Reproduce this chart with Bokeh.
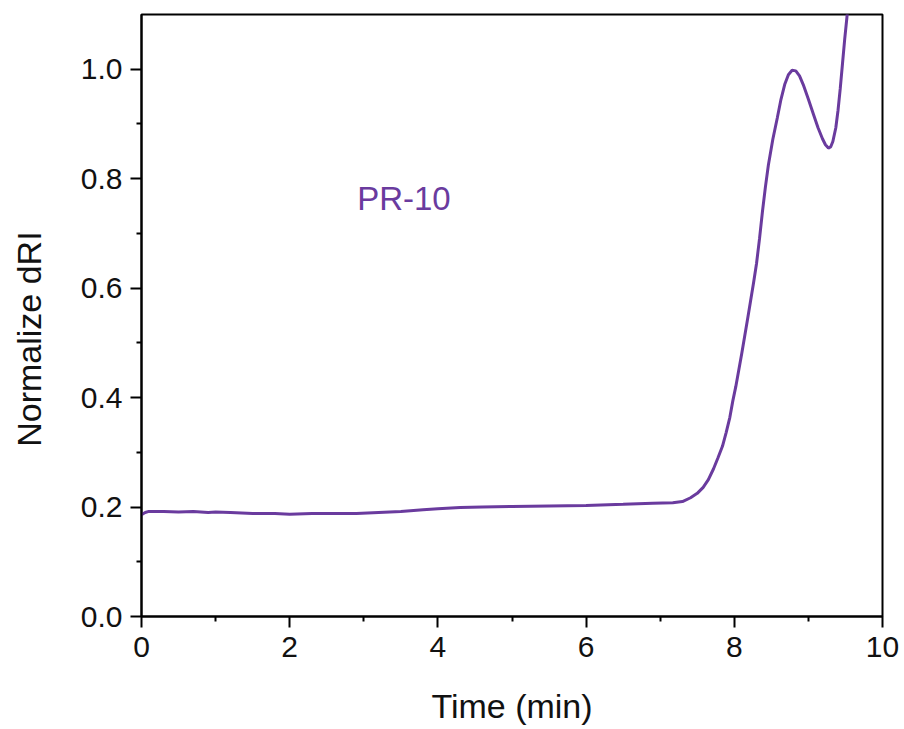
from bokeh.plotting import figure
from bokeh.models import FixedTicker, Range1d, Label
from bokeh.embed import file_html
from bokeh.resources import INLINE

# ---- data ----
time_min = [0.0, 0.05, 0.1, 0.3, 0.5, 0.7, 0.9, 1.0, 1.2, 1.5, 1.8, 2.0, 2.3, 2.6, 2.9,
            3.2, 3.5, 3.8, 4.0, 4.3, 4.6, 5.0, 5.5, 6.0, 6.5, 6.9, 7.17, 7.30, 7.41,
            7.50, 7.58, 7.65, 7.72, 7.78, 7.84, 7.89, 7.94, 7.98, 8.02, 8.06, 8.10,
            8.14, 8.18, 8.22, 8.26, 8.30, 8.34, 8.38, 8.42, 8.46, 8.52, 8.58, 8.63,
            8.68, 8.73, 8.78, 8.83, 8.88, 8.93, 9.00, 9.07, 9.13, 9.19, 9.23, 9.27,
            9.30, 9.33, 9.37, 9.40, 9.43, 9.46, 9.49, 9.52, 9.55]
dri = [0.186, 0.190, 0.192, 0.192, 0.191, 0.192, 0.190, 0.191, 0.190, 0.188, 0.188,
       0.187, 0.188, 0.188, 0.188, 0.190, 0.192, 0.195, 0.197, 0.199, 0.200, 0.201,
       0.202, 0.203, 0.205, 0.207, 0.208, 0.210, 0.217, 0.225, 0.236, 0.250, 0.270,
       0.290, 0.311, 0.336, 0.364, 0.394, 0.420, 0.450, 0.480, 0.512, 0.544, 0.577,
       0.610, 0.645, 0.690, 0.740, 0.785, 0.825, 0.872, 0.911, 0.945, 0.972, 0.990,
       0.998, 0.997, 0.988, 0.972, 0.945, 0.917, 0.893, 0.873, 0.862, 0.856, 0.858,
       0.868, 0.893, 0.925, 0.965, 1.010, 1.055, 1.095, 1.140]

x_ticks = [0, 2, 4, 6, 8, 10]
x_tick_labels = ["0", "2", "4", "6", "8", "10"]
x_minor = [1, 3, 5, 7, 9]
y_ticks = [0.0, 0.2, 0.4, 0.6, 0.8, 1.0]
y_tick_labels = ["0.0", "0.2", "0.4", "0.6", "0.8", "1.0"]
y_minor = [0.1, 0.3, 0.5, 0.7, 0.9]
series_label = "PR-10"
x_title = "Time (min)"
y_title = "Normalize dRI"

LINE_COLOR = "#6A3B9E"
FONT = "Liberation Sans"

p = figure(width=904, height=729, output_backend="svg", toolbar_location=None,
           x_range=Range1d(0, 10), y_range=Range1d(0, 1.1),
           min_border_left=141, min_border_right=22, min_border_top=14,
           min_border_bottom=113)
p.grid.visible = False
p.background_fill_color = "white"
p.border_fill_color = "white"
p.outline_line_color = "black"
p.outline_line_width = 2

p.line(time_min, dri, line_color=LINE_COLOR, line_width=3)

p.add_layout(Label(x=2.91, y=0.763, text=series_label, text_color=LINE_COLOR,
                   text_font=FONT, text_font_size="33px", text_baseline="alphabetic"))

p.xaxis.ticker = FixedTicker(ticks=x_ticks, minor_ticks=x_minor)
p.yaxis.ticker = FixedTicker(ticks=y_ticks, minor_ticks=y_minor)
p.xaxis.major_label_overrides = {t: l for t, l in zip(x_ticks, x_tick_labels)}
p.yaxis.major_label_overrides = {t: l for t, l in zip(y_ticks, y_tick_labels)}

p.xaxis.axis_label = x_title
# trailing non-breaking spaces move the vertical title slightly downward, as in the reference
p.yaxis.axis_label = y_title + "\u00a0" * 5

for ax in (p.xaxis[0], p.yaxis[0]):
    ax.axis_line_color = "black"
    ax.axis_line_width = 2
    ax.major_tick_line_color = "black"
    ax.major_tick_line_width = 2
    ax.minor_tick_line_color = "black"
    ax.minor_tick_line_width = 2
    ax.major_tick_in = 0
    ax.major_tick_out = 11
    ax.minor_tick_in = 0
    ax.minor_tick_out = 5
    ax.major_label_text_font = FONT
    ax.major_label_text_font_size = "30px"
    ax.major_label_text_color = "#111111"
    ax.axis_label_text_font = FONT
    ax.axis_label_text_font_size = "34px"
    ax.axis_label_text_font_style = "normal"
    ax.axis_label_text_color = "#111111"

p.xaxis.major_label_standoff = 9
p.yaxis.major_label_standoff = 8
p.xaxis.axis_label_standoff = 27
p.yaxis.axis_label_standoff = 30

open("out.html", "w").write(file_html(p, INLINE))
